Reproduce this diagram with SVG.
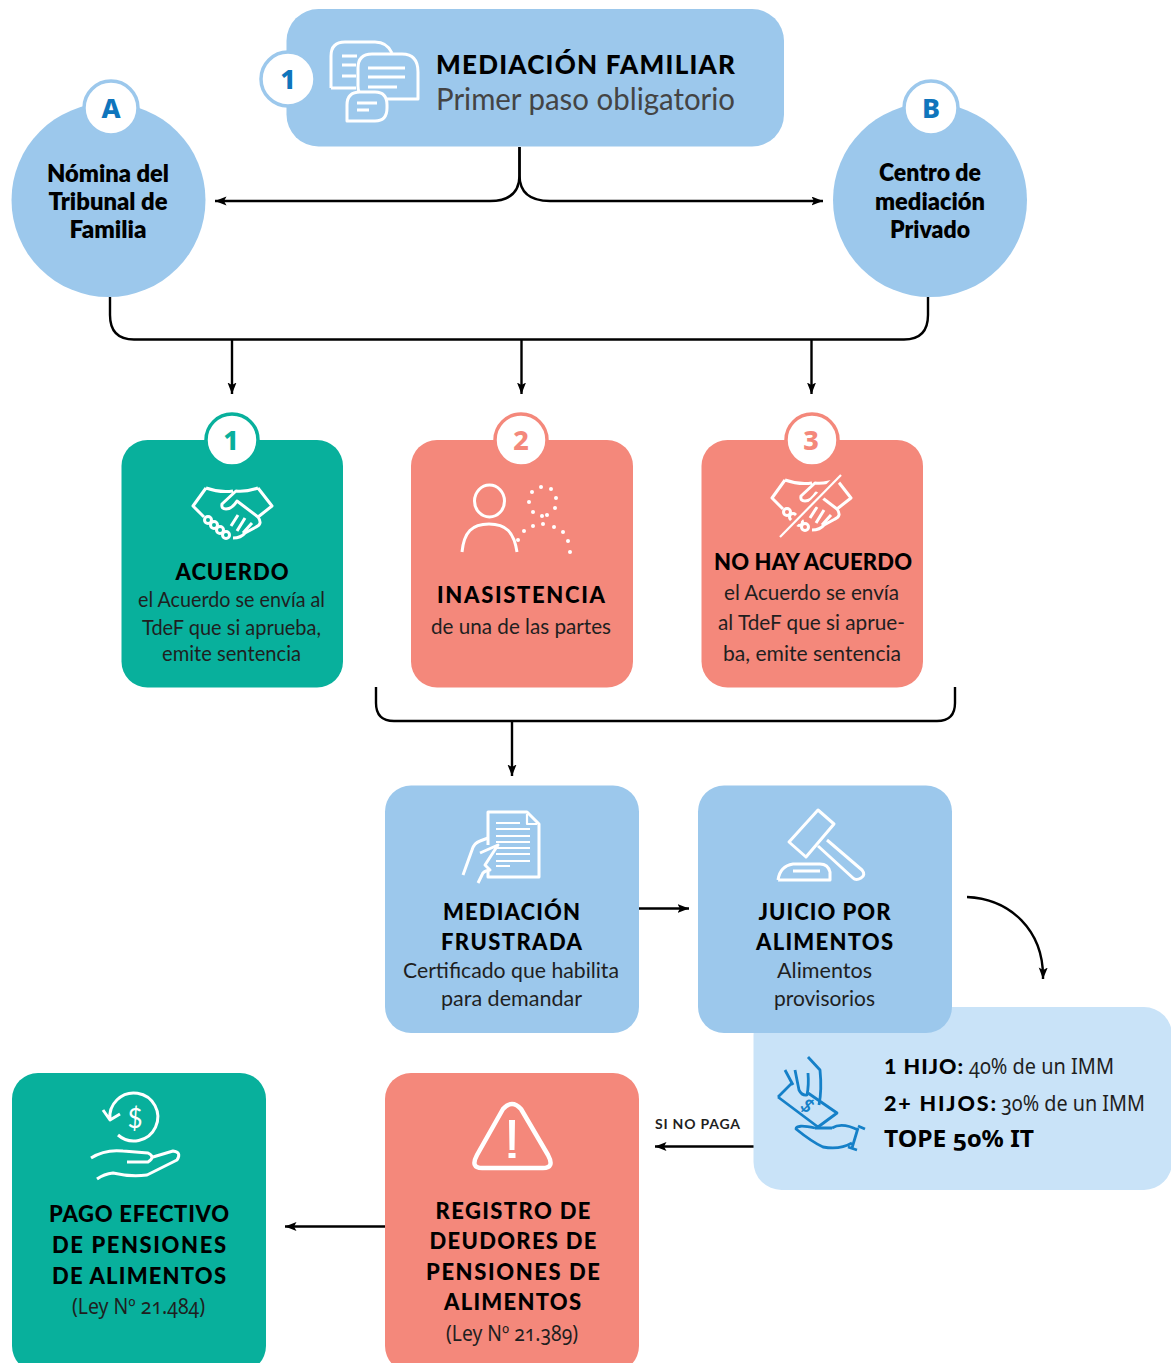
<svg xmlns="http://www.w3.org/2000/svg" xmlns:xlink="http://www.w3.org/1999/xlink" width="1171" height="1363" viewBox="0 0 1171 1363">
<style>
text{font-family:"Lato","Noto Sans",sans-serif;text-anchor:middle;fill:#1f1f1f}
.h{font-weight:900;font-size:22px;fill:#000}
.b{font-size:21px}
.c{font-weight:800;font-size:23.500px;fill:#000}
.n{font-weight:800;font-size:27px;font-family:"Noto Sans",sans-serif}
.l{text-anchor:start}
.o{font-family:"Noto Sans",sans-serif;font-feature-settings:"onum"}
.blue{fill:#9CC8EC}.green{fill:#08B09C}.red{fill:#F4887B}
.ic{fill:none;stroke:#fff;stroke-width:3;stroke-linecap:butt;stroke-linejoin:round}
.t2{stroke-width:2.200}
.t4{stroke-width:4.500}
.mi{fill:none;stroke:#1580C8;stroke-width:2.800;stroke-linejoin:round}
.con{fill:none;stroke:#000;stroke-width:2.400}
.badge{fill:#fff;stroke-width:3.500}
</style>
<defs>
<marker id="ah" markerUnits="userSpaceOnUse" markerWidth="13" markerHeight="10" refX="11.500" refY="4.500" orient="auto"><path d="M0 0L11.500 4.500L0 9L2.500 4.500Z" fill="#000"/></marker>
<g id="shake">
<path class="ic" d="M206 488Q220 493 233 491M258 488Q246 492 236 491L222 504Q221 509 226 509Q232 509 237 501L258 517Q263 524 256 527L245 533Q241 538 233 538M206 488L193 506L204 517M258 488L272 506L258 517M238 515L231 526M245 518L237 531M252 523L243 533"/>
<circle class="ic" cx="208" cy="520" r="3.500"/><circle class="ic" cx="214" cy="525" r="3.500"/><circle class="ic" cx="220" cy="530" r="3.500"/><circle class="ic" cx="226" cy="535" r="3.500"/>
</g>
</defs>

<g id="connectors">
<path class="con" marker-end="url(#ah)" d="M519.500 147V175Q519.500 201 490 201H215"/>
<path class="con" marker-end="url(#ah)" d="M519.500 147V175Q519.500 201 550 201H823"/>
<path class="con" d="M110 297V315Q110 339.500 134 339.500H904Q928 339.500 928 315V297"/>
<path class="con" marker-end="url(#ah)" d="M232 339.500V394"/>
<path class="con" marker-end="url(#ah)" d="M521.500 339.500V394"/>
<path class="con" marker-end="url(#ah)" d="M811.500 339.500V394"/>
<path class="con" d="M376 687V703Q376 721 394 721H937Q955 721 955 703V687"/>
<path class="con" marker-end="url(#ah)" d="M512 721V776"/>
<path class="con" marker-end="url(#ah)" d="M639 908.500H689"/>
<path class="con" marker-end="url(#ah)" d="M967 897C1010 899 1044 930 1043 979"/>
<path class="con" marker-end="url(#ah)" d="M754 1146.500H655"/>
<path class="con" marker-end="url(#ah)" d="M385 1226.500H285"/>
</g>

<g id="node-mediacion">
<rect class="blue" x="286.500" y="9" width="497.500" height="137.500" rx="32"/>
<circle class="badge" cx="288" cy="79" r="27" stroke="#9CC8EC"/>
<text class="n" x="288" y="89" style="fill:#0F75BC">1</text>
<path class="ic" d="M331 88V56Q331 42 345 42H375Q387 42 392 53M342 56H357M342 65H356M342 76H356M331 88H356"/>
<path class="ic" d="M418 99H372Q358 99 358 86V68Q358 54 372 54H402Q418 54 418 72Z"/>
<path class="ic" d="M368 68H405M368 77H405M368 87H397"/>
<path class="blue" d="M347 121V105Q347 92 360 92H375Q387 92 387 105V108Q387 121 375 121Z"/>
<path class="ic" d="M347 121V105Q347 92 360 92H375Q387 92 387 105V108Q387 121 375 121Z"/>
<path class="ic" d="M357 103H377M357 110H369"/>
<text class="l" x="436" y="74" style="font-weight:900;font-size:26px;fill:#000" textLength="299">MEDIACIÓN FAMILIAR</text>
<text class="l" x="436" y="110" style="font-size:30px;fill:#444" textLength="299" lengthAdjust="spacingAndGlyphs">Primer paso obligatorio</text>
</g>

<g id="node-a">
<circle class="blue" cx="108.500" cy="200" r="97"/>
<circle class="badge" cx="111" cy="108" r="27" stroke="#9CC8EC"/>
<text class="n" x="111" y="118" style="fill:#0F75BC">A</text>
<text class="c" x="108" y="182" textLength="122" lengthAdjust="spacingAndGlyphs">Nómina del</text>
<text class="c" x="108" y="210" textLength="119" lengthAdjust="spacingAndGlyphs">Tribunal de</text>
<text class="c" x="108" y="238" textLength="77" lengthAdjust="spacingAndGlyphs">Familia</text>
</g>

<g id="node-b">
<circle class="blue" cx="930" cy="200" r="97"/>
<circle class="badge" cx="931" cy="108" r="27" stroke="#9CC8EC"/>
<text class="n" x="931" y="118" style="fill:#0F75BC">B</text>
<text class="c" x="930" y="181" textLength="102" lengthAdjust="spacingAndGlyphs">Centro de</text>
<text class="c" x="930" y="210" textLength="110" lengthAdjust="spacingAndGlyphs">mediación</text>
<text class="c" x="930" y="238" textLength="80" lengthAdjust="spacingAndGlyphs">Privado</text>
</g>

<g id="node-acuerdo">
<rect class="green" x="121.500" y="440" width="221.500" height="247.500" rx="26"/>
<circle class="badge" cx="232" cy="440" r="26" stroke="#08B09C"/>
<text class="n" x="231" y="450" style="fill:#08B09C">1</text>
<use xlink:href="#shake" href="#shake"/>
<text class="h" x="232" y="580" textLength="113">ACUERDO</text>
<text class="b" x="231.500" y="607" textLength="187" lengthAdjust="spacingAndGlyphs">el Acuerdo se envía al</text>
<text class="b" x="231.500" y="635" textLength="179" lengthAdjust="spacingAndGlyphs">TdeF que si aprueba,</text>
<text class="b" x="231.500" y="661" textLength="139" lengthAdjust="spacingAndGlyphs">emite sentencia</text>
</g>

<g id="node-inasistencia">
<rect class="red" x="411" y="440" width="222" height="247.500" rx="26"/>
<circle class="badge" cx="521" cy="440" r="26" stroke="#F4887B"/>
<text class="n" x="521" y="450" style="fill:#F4887B">2</text>
<ellipse class="ic" cx="489.500" cy="501" rx="15" ry="16"/>
<path class="ic" d="M462 552C464 532 472 524 489 524C506 524 514 532 517 552"/>
<g fill="#fff"><circle cx="541" cy="487" r="2"/><circle cx="551" cy="489" r="2"/><circle cx="556" cy="498" r="2"/><circle cx="555" cy="508" r="2"/><circle cx="547" cy="515" r="2"/><circle cx="542" cy="516" r="2"/><circle cx="533" cy="512" r="2"/><circle cx="529" cy="502" r="2"/><circle cx="532" cy="492" r="2"/><circle cx="518" cy="540" r="2"/><circle cx="524" cy="531" r="2"/><circle cx="533" cy="526" r="2"/><circle cx="543" cy="524" r="2"/><circle cx="554" cy="527" r="2"/><circle cx="563" cy="532" r="2"/><circle cx="568" cy="541" r="2"/><circle cx="570" cy="552" r="2"/></g>
<text class="h" x="521" y="603" textLength="168">INASISTENCIA</text>
<text class="b" x="521" y="634" textLength="180" lengthAdjust="spacingAndGlyphs">de una de las partes</text>
</g>

<g id="node-no-acuerdo">
<rect class="red" x="701.500" y="440" width="221.500" height="247.500" rx="26"/>
<circle class="badge" cx="812" cy="440" r="26" stroke="#F4887B"/>
<text class="n" x="811" y="450" style="fill:#F4887B">3</text>
<use xlink:href="#shake" href="#shake" transform="translate(579 -8)"/>
<path d="M841 475L780 537" fill="none" stroke="#F4887B" stroke-width="8"/>
<path class="ic t2" d="M841 475L780 537"/>
<text class="h" x="813" y="570" textLength="198">NO HAY ACUERDO</text>
<text class="b" x="811.500" y="600" textLength="175" lengthAdjust="spacingAndGlyphs">el Acuerdo se envía</text>
<text class="b" x="811.500" y="630" textLength="187" lengthAdjust="spacingAndGlyphs">al TdeF que si aprue-</text>
<text class="b" x="812" y="661" textLength="178" lengthAdjust="spacingAndGlyphs">ba, emite sentencia</text>
</g>

<g id="node-montos">
<rect x="753.500" y="1007" width="418.500" height="183" rx="28" fill="#C9E3F8"/>
<path class="mi" d="M778 1097L792 1083M808 1093L837 1113L818 1127L778 1097"/>
<path class="mi" d="M785 1070L793 1085M795 1070L799 1090Q802 1096 807 1095Q809 1085 808 1073M808 1057L820 1070Q822 1090 819 1105"/>
<text x="807" y="1112" transform="rotate(40 807 1106)" style="font-size:18px;font-weight:700;fill:#1580C8">$</text>
<path class="mi" d="M815 1128H832M815 1128Q796 1124 796 1129Q812 1142 823 1147Q840 1150 852 1143M832 1128Q842 1122 858 1130M858 1126L865 1129M858 1128L852 1148M848 1147L857 1150"/>
<text class="l" x="884" y="1074" style="font-weight:900;font-size:21.500px;fill:#000" textLength="79">1 HIJO:</text>
<text class="l o" x="969" y="1074" style="font-size:21px" textLength="145" lengthAdjust="spacingAndGlyphs">40% de un IMM</text>
<text class="l" x="884" y="1111" style="font-weight:900;font-size:21.500px;fill:#000" textLength="112">2+ HIJOS:</text>
<text class="l o" x="1001" y="1111" style="font-size:21px" textLength="144" lengthAdjust="spacingAndGlyphs">30% de un IMM</text>
<text class="l o" x="884" y="1147" style="font-weight:700;font-size:23px;fill:#000" textLength="150" lengthAdjust="spacingAndGlyphs">TOPE 50% IT</text>
</g>

<g id="node-frustrada">
<rect class="blue" x="385" y="785.500" width="254" height="247.500" rx="26"/>
<path class="ic" d="M488 845V812H527L539 824V877H488V870"/>
<path class="ic t2" d="M527 814V824H537"/>
<path class="ic t2" d="M496 823H520M496 829H530M496 836H530M496 842H530M496 848H530M496 854H530M496 861H530M496 866H510"/>
<path class="ic" d="M463 875L472 850Q474 843 480 841L488 838M480 853L498 845L485 865L490 870Q483 871 482 875L478 883"/>
<text class="h" x="511.500" y="920" textLength="137">MEDIACIÓN</text>
<text class="h" x="511.500" y="950" textLength="141">FRUSTRADA</text>
<text class="b" x="511" y="978" textLength="216" lengthAdjust="spacingAndGlyphs">Certificado que habilita</text>
<text class="b" x="511.500" y="1006" textLength="141" lengthAdjust="spacingAndGlyphs">para demandar</text>
</g>

<g id="node-juicio">
<rect class="blue" x="698" y="785.500" width="254" height="247.500" rx="26"/>
<path class="ic" d="M818 810L834 824L806 857L789 842Z"/>
<path class="ic" d="M827 840L862 870Q866 875 861 878Q856 881 853 878L818 846"/>
<path class="ic" d="M778 880H830V872Q828 864 820 864H793Q780 866 778 880M793 871H820"/>
<text class="h" x="824.500" y="920" textLength="132">JUICIO POR</text>
<text class="h" x="824.500" y="950" textLength="137">ALIMENTOS</text>
<text class="b" x="824.500" y="978" textLength="95" lengthAdjust="spacingAndGlyphs">Alimentos</text>
<text class="b" x="824.500" y="1006" textLength="101" lengthAdjust="spacingAndGlyphs">provisorios</text>
</g>

<g id="label-si-no-paga">
<text class="l" x="655" y="1129" style="font-weight:700;font-size:14px" textLength="85">SI NO PAGA</text>
</g>

<g id="node-registro">
<rect class="red" x="385" y="1073" width="254" height="299" rx="26"/>
<path class="ic t4" d="M503 1109Q512 1099 521 1109L548 1155Q555 1168 543 1168H482Q470 1168 477 1155Z"/>
<path fill="#fff" d="M509 1120H515L514.500 1150H509.500ZM508.500 1153H515.500V1158H508.500Z"/>
<text class="h" x="513" y="1219" textLength="155">REGISTRO DE</text>
<text class="h" x="513" y="1249" textLength="167">DEUDORES DE</text>
<text class="h" x="513" y="1280" textLength="174">PENSIONES DE</text>
<text class="h" x="512.500" y="1310" textLength="137">ALIMENTOS</text>
<text class="b o" x="512" y="1341" textLength="132" lengthAdjust="spacingAndGlyphs">(Ley Nº 21.389)</text>
</g>

<g id="node-pago">
<rect class="green" x="12" y="1073" width="254" height="299" rx="26"/>
<path class="ic" d="M118 1135A24 24 0 1 0 110 1120M103 1110L110 1120L120 1114"/>
<text x="135" y="1128" style="font-size:26px;fill:#fff">$</text>
<path class="ic" d="M91 1158Q105 1149 123 1151L148 1153Q156 1157 148 1162H127M153 1157L173 1151Q182 1152 177 1160L147 1175Q130 1177 113 1173Q104 1174 97 1179"/>
<text class="h" x="139" y="1222" textLength="180">PAGO EFECTIVO</text>
<text class="h" x="139" y="1253" textLength="174">DE PENSIONES</text>
<text class="h" x="139" y="1284" textLength="174">DE ALIMENTOS</text>
<text class="b o" x="138.500" y="1314" textLength="133" lengthAdjust="spacingAndGlyphs">(Ley Nº 21.484)</text>
</g>
</svg>
